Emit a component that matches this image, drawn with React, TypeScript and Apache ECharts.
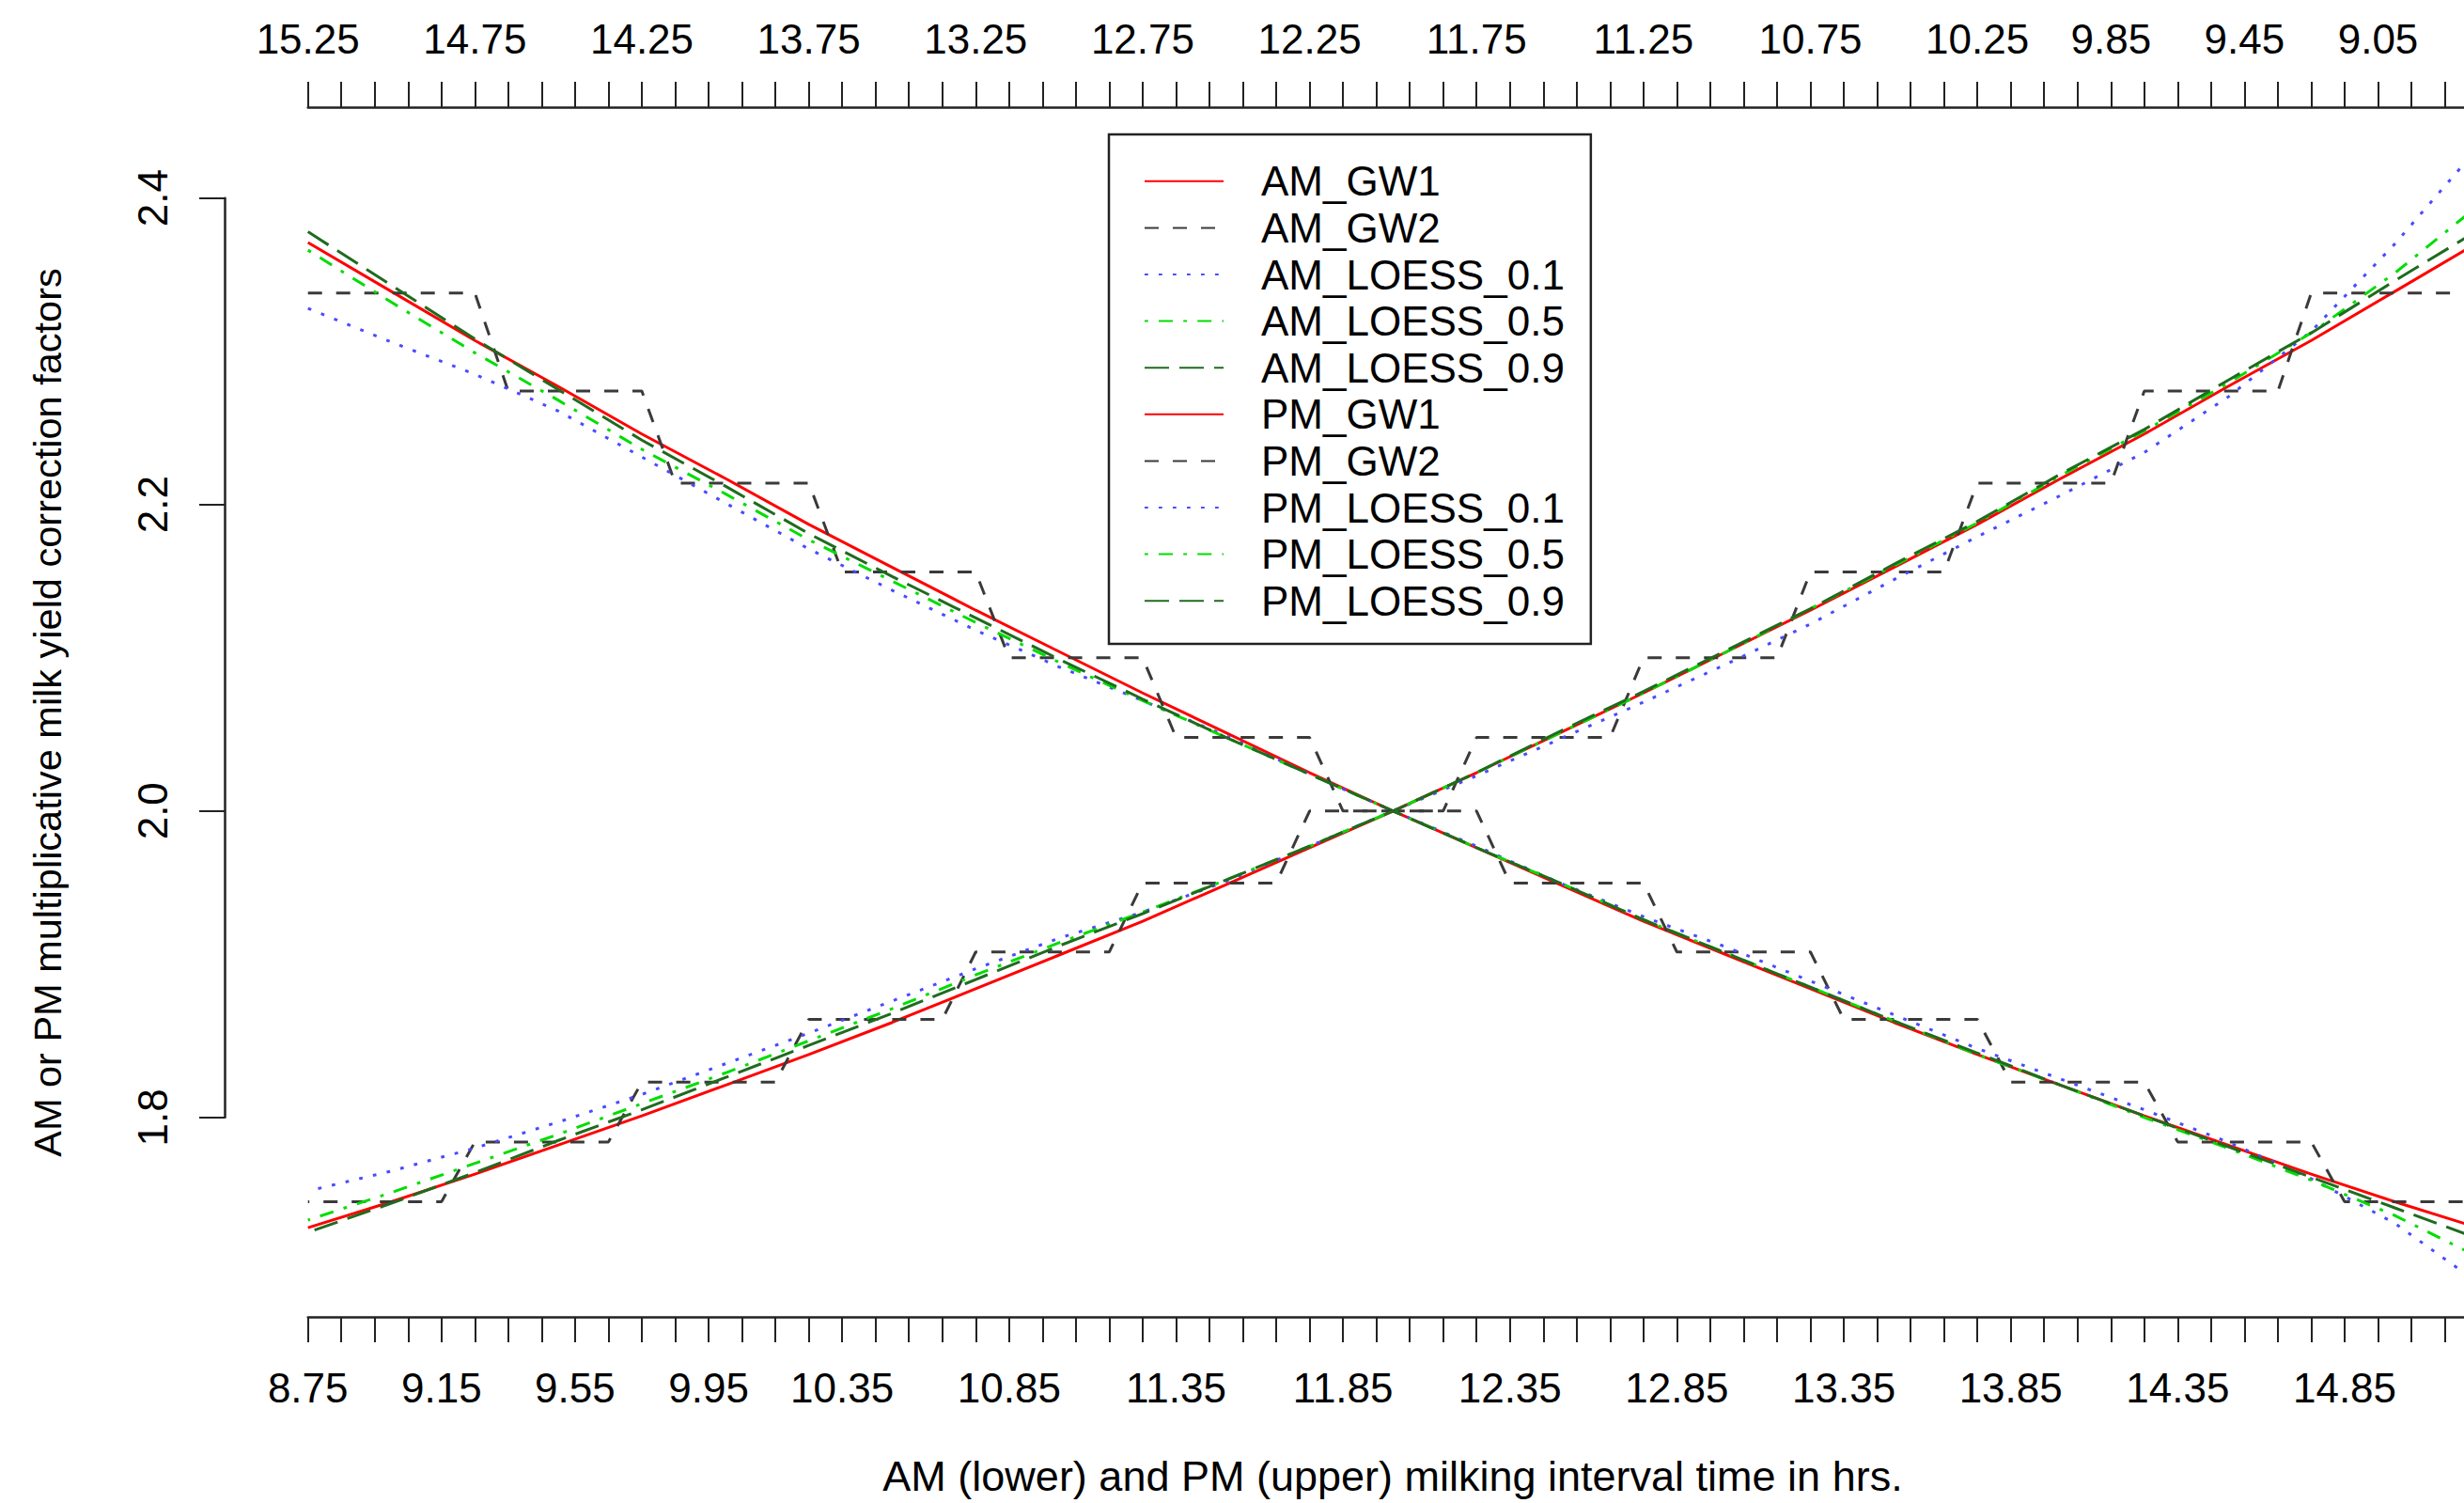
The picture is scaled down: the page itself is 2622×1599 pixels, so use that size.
import React, { useEffect, useRef } from "react";
import * as echarts from "echarts";

// Interval grid (hrs) used for the smooth curves (AM on the bottom axis, PM on the top axis)
const T = [8.75, 9.0, 9.25, 9.5, 9.75, 10.0, 10.25, 10.5, 10.75, 11.0, 11.25, 11.5, 11.75, 12.0,
  12.25, 12.5, 12.75, 13.0, 13.25, 13.5, 13.75, 14.0, 14.25, 14.5, 14.75, 15.0, 15.25];

const AM_GW1 = [2.371, 2.339, 2.307, 2.277, 2.246, 2.217, 2.187, 2.159, 2.131, 2.104, 2.077, 2.051, 2.025, 2.0,
  1.976, 1.952, 1.928, 1.906, 1.884, 1.862, 1.841, 1.821, 1.801, 1.782, 1.763, 1.745, 1.728];
const AM_LOESS_01 = [2.328, 2.306, 2.285, 2.261, 2.231, 2.201, 2.171, 2.144, 2.118, 2.094, 2.072, 2.049, 2.024, 2.0,
  1.977, 1.953, 1.931, 1.911, 1.889, 1.867, 1.845, 1.825, 1.805, 1.784, 1.76, 1.731, 1.692];
const AM_LOESS_05 = [2.366, 2.332, 2.299, 2.268, 2.236, 2.207, 2.177, 2.15, 2.123, 2.097, 2.072, 2.048, 2.024, 2.0,
  1.976, 1.953, 1.929, 1.907, 1.885, 1.863, 1.841, 1.821, 1.8, 1.78, 1.759, 1.736, 1.709];
const AM_LOESS_09 = [2.378, 2.343, 2.308, 2.275, 2.242, 2.212, 2.181, 2.153, 2.126, 2.099, 2.073, 2.048, 2.024, 2.0,
  1.976, 1.953, 1.929, 1.907, 1.885, 1.863, 1.842, 1.821, 1.801, 1.781, 1.761, 1.741, 1.721];

const PM_GW1 = [2.371, 2.339, 2.307, 2.277, 2.246, 2.217, 2.187, 2.159, 2.131, 2.104, 2.077, 2.051, 2.025, 2.0,
  1.976, 1.952, 1.928, 1.906, 1.884, 1.862, 1.841, 1.821, 1.801, 1.782, 1.763, 1.745, 1.728];
const PM_LOESS_01 = [2.433, 2.37, 2.313, 2.27, 2.234, 2.206, 2.179, 2.151, 2.122, 2.096, 2.071, 2.047, 2.023, 2.0,
  1.977, 1.954, 1.934, 1.917, 1.897, 1.876, 1.855, 1.835, 1.815, 1.797, 1.78, 1.765, 1.752];
const PM_LOESS_05 = [2.395, 2.351, 2.312, 2.279, 2.248, 2.219, 2.188, 2.16, 2.132, 2.104, 2.077, 2.051, 2.025, 2.0,
  1.977, 1.955, 1.934, 1.914, 1.893, 1.871, 1.85, 1.829, 1.809, 1.789, 1.77, 1.751, 1.733];
const PM_LOESS_09 = [2.379, 2.346, 2.312, 2.281, 2.249, 2.22, 2.189, 2.161, 2.132, 2.105, 2.078, 2.052, 2.025, 2.0,
  1.977, 1.955, 1.933, 1.912, 1.89, 1.868, 1.847, 1.826, 1.805, 1.785, 1.764, 1.744, 1.725];

// GW2 step tables (half-hour classes)
const GW2_START = [8.75, 9.35, 9.85, 10.35, 10.85, 11.35, 11.85, 12.35, 12.85, 13.35, 13.85, 14.35, 14.85];
const GW2_END = [9.25, 9.75, 10.25, 10.75, 11.25, 11.75, 12.25, 12.75, 13.25, 13.75, 14.25, 14.75, 15.25];
const AM_GW2 = [2.338, 2.274, 2.214, 2.156, 2.1, 2.048, 2.0, 1.953, 1.908, 1.864, 1.823, 1.784, 1.745];
const PM_GW2 = [2.338, 2.274, 2.214, 2.156, 2.1, 2.048, 2.0, 1.953, 1.908, 1.864, 1.823, 1.784, 1.745];

// Reference line at factor 2.0
const REF_X = [8.56, 15.155];
const REF_Y = [2.0, 2.0];

// Tick labels
const BOTTOM_LABELS = [8.75, 9.15, 9.55, 9.95, 10.35, 10.85, 11.35, 11.85, 12.35, 12.85, 13.35, 13.85, 14.35, 14.85];
const TOP_LABELS = [15.25, 14.75, 14.25, 13.75, 13.25, 12.75, 12.25, 11.75, 11.25, 10.75, 10.25, 9.85, 9.45, 9.05];

const X_TITLE = "AM (lower) and PM (upper) milking interval time in hrs.";
const Y_TITLE = "AM or PM multiplicative milk yield correction factors";

const FONT = "'Liberation Sans', Arial, Helvetica, sans-serif";
const FS = 44;

const RED = "#ff0000";
const GREY = "#3a3a3a";
const BLUE = "#4a4aff";
const GREEN = "#00dd00";
const DKGREEN = "#1f6b1f";

const SOLID: any = "solid";
const DASHED: any = [15, 15];
const DOTTED: any = [3.75, 11.25];
const DOTDASH: any = [3.75, 11.25, 15, 11.25];
const LONGDASH: any = [26, 11];

const pairs = (xs: number[], ys: number[]) => xs.map((x, i) => [x, ys[i]]);
const steps = (vals: number[]) => {
  const out: number[][] = [];
  vals.forEach((v, i) => {
    out.push([GW2_START[i], v]);
    out.push([GW2_END[i], v]);
  });
  return out;
};

const near = (list: number[], v: number) => list.some((l) => Math.abs(l - v) < 1e-6);

export default function App() {
  const ref = useRef<HTMLDivElement>(null);
  useEffect(() => {
    const chart = echarts.init(ref.current!, null, { renderer: "svg" });
    const line = (name: string, data: number[][], axis: number, color: string, type: any, z: number) => ({
      type: "line",
      name,
      xAxisIndex: axis,
      yAxisIndex: 0,
      data,
      symbol: "none",
      showSymbol: false,
      clip: false,
      silent: true,
      z,
      lineStyle: { color, width: 3, type, cap: "butt" },
      itemStyle: { color },
      emphasis: { disabled: true },
    });
    const axisLineStyle = { color: "#222", width: 2.5 };
    const tickStyle = { color: "#222", width: 2 };
    const option: any = {
      animation: false,
      backgroundColor: "#ffffff",
      textStyle: { fontFamily: FONT },
      grid: {
        left: 327.7,
        right: -15.1,
        top: 210.7,
        bottom: 410.2,
        containLabel: false,
        outerBoundsMode: "none",
      },
      xAxis: [
        {
          type: "value",
          position: "bottom",
          min: 8.75,
          max: 15.25,
          interval: 0.1,
          offset: 212.2,
          axisLine: { show: true, onZero: false, lineStyle: axisLineStyle },
          axisTick: { show: true, length: 27, lineStyle: tickStyle },
          axisLabel: {
            show: true,
            margin: 53,
            fontSize: FS,
            fontFamily: FONT,
            color: "#000",
            showMinLabel: true,
            showMaxLabel: true,
            formatter: (v: number) => (near(BOTTOM_LABELS, v) ? v.toFixed(2) : ""),
          },
          splitLine: { show: false },
        },
        {
          type: "value",
          position: "top",
          inverse: true,
          min: 8.75,
          max: 15.25,
          interval: 0.1,
          offset: 96.7,
          axisLine: { show: true, onZero: false, lineStyle: axisLineStyle },
          axisTick: { show: true, length: 27, lineStyle: tickStyle },
          axisLabel: {
            show: true,
            margin: 51,
            fontSize: FS,
            fontFamily: FONT,
            color: "#000",
            showMinLabel: true,
            showMaxLabel: true,
            formatter: (v: number) => (near(TOP_LABELS, v) ? v.toFixed(2) : ""),
          },
          splitLine: { show: false },
        },
      ],
      yAxis: [
        {
          type: "value",
          position: "left",
          min: 1.8,
          max: 2.4,
          interval: 0.2,
          offset: 88.7,
          axisLine: { show: true, onZero: false, lineStyle: axisLineStyle },
          axisTick: { show: true, length: 27, lineStyle: tickStyle },
          axisLabel: {
            show: true,
            rotate: 90,
            margin: 55,
            fontSize: FS,
            fontFamily: FONT,
            color: "#000",
            formatter: (v: number) => v.toFixed(1),
          },
          splitLine: { show: false },
        },
      ],
      legend: {
        show: true,
        orient: "vertical",
        left: 1180,
        top: 143,
        padding: [25, 28, 21, 37],
        itemWidth: 84,
        itemHeight: 14,
        itemGap: 0,
        borderColor: "#222",
        borderWidth: 2.5,
        backgroundColor: "#ffffff",
        selectedMode: false,
        itemStyle: { opacity: 0, borderWidth: 0 },
        textStyle: {
          fontSize: FS,
          fontFamily: FONT,
          color: "#000",
          lineHeight: 49.6,
          padding: [0, 0, 0, 35],
        },
        data: [
          "AM_GW1", "AM_GW2", "AM_LOESS_0.1", "AM_LOESS_0.5", "AM_LOESS_0.9",
          "PM_GW1", "PM_GW2", "PM_LOESS_0.1", "PM_LOESS_0.5", "PM_LOESS_0.9",
        ],
      },
      graphic: [
        {
          type: "text",
          x: 1482,
          y: 1570,
          silent: true,
          style: {
            text: X_TITLE,
            align: "center",
            verticalAlign: "middle",
            font: `45px ${FONT}`,
            fill: "#000",
          },
        },
        {
          type: "text",
          x: 50,
          y: 758,
          rotation: Math.PI / 2,
          silent: true,
          style: {
            text: Y_TITLE,
            align: "center",
            verticalAlign: "middle",
            font: `41.5px ${FONT}`,
            fill: "#000",
          },
        },
      ],
      series: [
        line("AM_GW1", pairs(T, AM_GW1), 0, RED, SOLID, 2),
        line("AM_GW2", steps(AM_GW2), 0, GREY, DASHED, 2),
        line("AM_LOESS_0.1", pairs(T, AM_LOESS_01), 0, BLUE, DOTTED, 2),
        line("AM_LOESS_0.5", pairs(T, AM_LOESS_05), 0, GREEN, DOTDASH, 2),
        line("AM_LOESS_0.9", pairs(T, AM_LOESS_09), 0, DKGREEN, LONGDASH, 2),
        line("PM_GW1", pairs(T, PM_GW1), 1, RED, SOLID, 2),
        line("PM_GW2", steps(PM_GW2), 1, GREY, DASHED, 2),
        line("PM_LOESS_0.1", pairs(T, PM_LOESS_01), 1, BLUE, DOTTED, 2),
        line("PM_LOESS_0.5", pairs(T, PM_LOESS_05), 1, GREEN, DOTDASH, 2),
        line("PM_LOESS_0.9", pairs(T, PM_LOESS_09), 1, DKGREEN, LONGDASH, 2),
        {
          type: "line",
          name: "ref",
          xAxisIndex: 0,
          yAxisIndex: 0,
          data: pairs(REF_X, REF_Y),
          symbol: "none",
          clip: false,
          silent: true,
          z: 5,
          lineStyle: {
            color: "#1c1a4c",
            width: 5,
            cap: "butt",
            shadowColor: "rgba(0,0,0,0.35)",
            shadowBlur: 6,
            shadowOffsetY: 4,
          },
          emphasis: { disabled: true },
        },
      ],
    };
    chart.setOption(option);
    return () => chart.dispose();
  }, []);
  return (
    <div
      ref={ref}
      style={{ position: "fixed", left: 0, top: 0, width: 2622, height: 1599, background: "#fff" }}
    />
  );
}
